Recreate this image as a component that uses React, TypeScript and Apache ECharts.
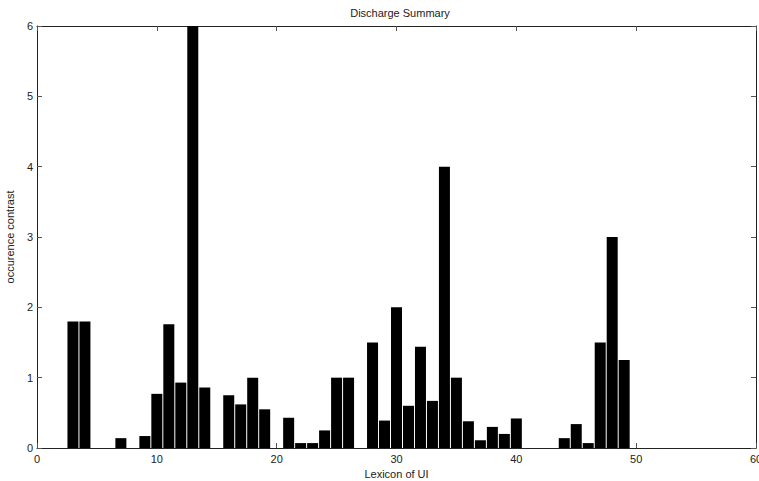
import React, { useEffect, useRef } from "react";
import * as echarts from "echarts";

const categories: number[] = [
  1, 2, 3, 4, 5, 6, 7, 8, 9, 10, 11, 12, 13, 14, 15, 16, 17, 18, 19, 20, 21, 22, 23, 24, 25,
  26, 27, 28, 29, 30, 31, 32, 33, 34, 35, 36, 37, 38, 39, 40, 41, 42, 43, 44, 45, 46, 47, 48, 49,
];
const values: number[] = [
  0, 0, 1.8, 1.8, 0, 0, 0.14, 0, 0.17, 0.77, 1.76, 0.93, 6, 0.86, 0, 0.75, 0.62, 1.0, 0.55, 0,
  0.43, 0.07, 0.07, 0.25, 1.0, 1.0, 0, 1.5, 0.39, 2.0, 0.6, 1.44, 0.67, 4.0, 1.0, 0.38, 0.11,
  0.3, 0.2, 0.42, 0, 0, 0, 0.14, 0.34, 0.07, 1.5, 3.0, 1.25,
];

const title = "Discharge Summary";
const xName = "Lexicon of UI";
const yName = "occurence contrast";

const FONT = "Liberation Sans";
const TEXT = "#222";
const LINE = "#222";

export default function App() {
  const ref = useRef<HTMLDivElement>(null);
  useEffect(() => {
    if (!ref.current) return;
    const chart = echarts.init(ref.current, null, { renderer: "svg" });
    const tick = { show: true, inside: true, length: 5, lineStyle: { color: "#555", width: 1 } };
    chart.setOption({
      animation: false,
      backgroundColor: "#fff",
      title: {
        text: title,
        left: 395,
        textAlign: "center",
        top: 2,
        textStyle: { fontFamily: FONT, fontSize: 11, fontWeight: "normal", color: TEXT },
      },
      grid: {
        left: 37,
        right: 3,
        top: 26,
        bottom: 33,
        show: false,
        containLabel: false,
        outerBoundsMode: "none",
      },
      xAxis: [
        {
          type: "value",
          min: 0,
          max: 60,
          interval: 10,
          position: "bottom",
          name: xName,
          nameLocation: "middle",
          nameGap: 19,
          nameTextStyle: { fontFamily: FONT, fontSize: 11, color: TEXT },
          axisLine: { show: true, onZero: false, lineStyle: { color: LINE, width: 1 } },
          axisTick: tick,
          axisLabel: { fontFamily: FONT, fontSize: 11, color: TEXT, margin: 5 },
          splitLine: { show: false },
        },
        {
          type: "value",
          min: 0,
          max: 60,
          interval: 10,
          position: "top",
          axisLine: { show: true, onZero: false, lineStyle: { color: LINE, width: 1 } },
          axisTick: tick,
          axisLabel: { show: false },
          splitLine: { show: false },
        },
      ],
      yAxis: [
        {
          type: "value",
          min: 0,
          max: 6,
          interval: 1,
          position: "left",
          name: yName,
          nameLocation: "middle",
          nameGap: 17,
          nameTextStyle: { fontFamily: FONT, fontSize: 11, color: TEXT },
          axisLine: { show: true, onZero: false, lineStyle: { color: LINE, width: 1 } },
          axisTick: tick,
          axisLabel: { fontFamily: FONT, fontSize: 11, color: TEXT, margin: 4 },
          splitLine: { show: false },
        },
        {
          type: "value",
          min: 0,
          max: 6,
          interval: 1,
          position: "right",
          axisLine: { show: true, onZero: false, lineStyle: { color: LINE, width: 1 } },
          axisTick: tick,
          axisLabel: { show: false },
          splitLine: { show: false },
        },
      ],
      series: [
        {
          type: "bar",
          xAxisIndex: 0,
          yAxisIndex: 0,
          barWidth: 11,
          data: categories.map((c, i) => [c, values[i]]),
          itemStyle: { color: "#000" },
          emphasis: { disabled: true },
        },
      ],
    });
    return () => chart.dispose();
  }, []);
  return (
    <div
      ref={ref}
      style={{ position: "absolute", left: 0, top: 0, width: 759, height: 481, background: "#fff" }}
    />
  );
}
